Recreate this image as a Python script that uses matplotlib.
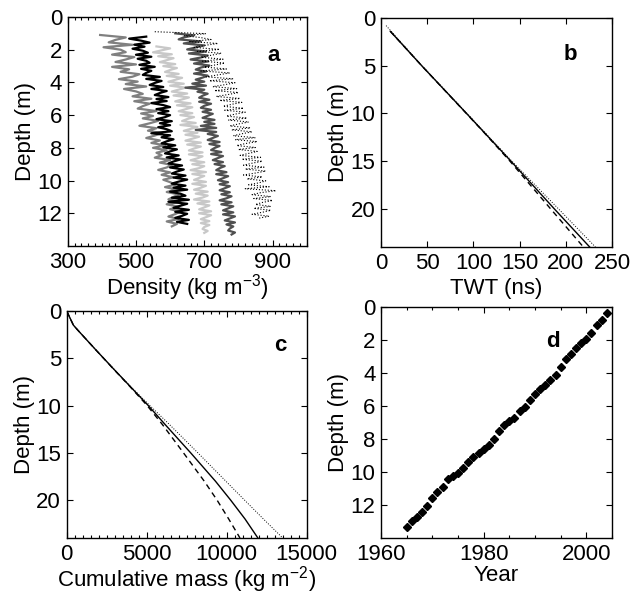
import numpy as np
import matplotlib
matplotlib.use("Agg")
import matplotlib.pyplot as plt
from matplotlib.ticker import MultipleLocator

plt.rcParams['font.family'] = ['Liberation Sans', 'DejaVu Sans']
plt.rcParams['mathtext.default'] = 'regular'
FS = 16
plt.rcParams['font.size'] = FS

# ---------------- Panel a: density profiles (kg m^-3), depth range per series ----------------
range_medgray = (1.10, 12.80)
dens_medgray = [395, 470, 440, 420, 490, 405, 455, 470, 430, 495, 470, 440, 500, 430, 480, 455,
                510, 490, 450, 505, 470, 530, 465, 500, 520, 490, 545, 495, 540, 520, 505, 560,
                515, 550, 520, 565, 540, 510, 560, 535, 575, 555, 530, 570, 545, 585, 550, 590,
                560, 575, 555, 600, 570, 605, 590, 565, 600, 575, 610, 580, 600, 615, 585, 620,
                590, 625, 610, 595, 630, 590, 625, 600, 630, 615, 595, 625, 590, 620, 605]
range_black = (1.20, 12.65)
dens_black = [530, 480, 515, 540, 495, 525, 490, 520, 535, 500, 545, 505, 530, 540, 510, 555,
              515, 545, 530, 520, 570, 530, 575, 555, 540, 580, 545, 590, 570, 555, 595, 560,
              590, 545, 580, 600, 560, 595, 565, 600, 585, 560, 605, 570, 600, 565, 590, 605,
              545, 600, 575, 610, 590, 575, 615, 580, 620, 600, 585, 625, 590, 630, 610, 595,
              635, 600, 640, 620, 605, 645, 610, 650, 625, 605, 645, 610, 650, 600, 630, 645,
              605, 655, 595, 650, 630, 610, 655, 615, 650, 635, 615, 655, 620, 650]
range_lightgray = (1.80, 13.20)
dens_lightgray = [560, 600, 575, 550, 605, 565, 610, 590, 570, 615, 580, 620, 600, 585, 625, 590,
                  635, 615, 595, 640, 600, 645, 625, 605, 650, 610, 655, 635, 615, 660, 620, 665,
                  645, 625, 665, 630, 670, 650, 635, 675, 630, 680, 660, 640, 680, 645, 685, 665,
                  645, 690, 650, 690, 670, 655, 695, 655, 695, 680, 660, 700, 665, 700, 685, 660,
                  705, 665, 700, 685, 670, 705, 665, 705, 690, 670, 710, 675, 710, 695, 670, 715,
                  680, 715, 700, 685, 720, 685, 720, 705, 690, 715, 690, 715, 700, 695, 710, 700]
range_darkgray = (1.00, 13.30)
dens_darkgray = [615, 670, 640, 625, 690, 640, 700, 675, 650, 705, 655, 710, 690, 660, 710, 670,
                 715, 690, 675, 705, 670, 710, 695, 675, 700, 665, 705, 645, 700, 680, 710, 695,
                 685, 715, 685, 720, 700, 690, 720, 695, 725, 710, 695, 730, 700, 730, 690, 735,
                 675, 735, 710, 740, 725, 710, 745, 715, 745, 730, 720, 750, 720, 755, 740, 725,
                 755, 730, 760, 745, 735, 765, 735, 770, 755, 740, 770, 745, 775, 760, 745, 775,
                 750, 780, 765, 745, 780, 750, 785, 770, 755, 785, 755, 790, 775, 760, 790, 765,
                 785, 775, 770, 790, 780]
range_dotted = (0.90, 12.30)
dens_dotted = [555, 705, 640, 690, 720, 655, 740, 700, 670, 745, 680, 750, 720, 690, 755, 695,
               760, 730, 700, 765, 690, 775, 740, 705, 785, 715, 790, 760, 725, 795, 730, 800,
               770, 735, 805, 745, 810, 780, 755, 815, 760, 820, 790, 765, 825, 770, 830, 800,
               775, 835, 780, 840, 810, 785, 850, 790, 855, 820, 795, 850, 800, 855, 830, 805,
               865, 810, 870, 840, 815, 875, 820, 880, 850, 815, 870, 825, 880, 860, 830, 890,
               820, 910, 865, 840, 895, 845, 900, 870, 850, 895, 845, 895, 870, 840, 890, 860]

# ---------------- Panel b: depth vs two-way travel time ----------------
twt_depth_solid = [1.4, 5, 10, 15, 20, 24]
twt_solid = [10.1, 44.0, 92.5, 140.5, 187.5, 225.8]
twt_depth_dashed = [1.4, 5, 10, 12, 15, 20, 24]
twt_dashed = [10.1, 44.0, 92.3, 111.5, 139.5, 183.5, 219.0]
twt_depth_dotted = [0.8, 5, 10, 15, 20, 24]
twt_dotted = [5.5, 44.3, 93.0, 141.5, 192.0, 232.0]

# ---------------- Panel c: cumulative mass (kg m^-2) ----------------
mass_depth = [0, 0.5, 1.0, 1.5, 2, 3, 4, 6, 8, 10, 12, 15, 18, 20, 22, 24]
mass_solid = [0, 140, 280, 420, 680, 1220, 1760, 2860, 3980, 5100, 6150, 7750, 9300, 10250, 11150, 11950]
mass_dashed = [0, 140, 280, 420, 680, 1220, 1760, 2850, 3960, 5030, 5980, 7300, 8600, 9400, 10130, 10830]
mass_dotted = [0, 140, 280, 420, 680, 1220, 1760, 2870, 4000, 5200, 6420, 8200, 9950, 11120, 12300, 13500]

# ---------------- Panel d: depth-age ----------------
years_d = [1965, 1966, 1967, 1968, 1969, 1970, 1971, 1972, 1973, 1974,
           1975, 1976, 1977, 1978, 1979, 1980, 1981, 1982, 1983, 1984,
           1985, 1986, 1987, 1988, 1989, 1990, 1991, 1992, 1993, 1994,
           1995, 1996, 1997, 1998, 1999, 2000, 2001, 2002, 2003, 2004]
depth_d = [13.33, 13.0, 12.7, 12.4, 12.05, 11.6, 11.2, 10.9, 10.4, 10.24,
           10.04, 9.74, 9.4, 9.1, 8.83, 8.6, 8.37, 7.98, 7.5, 7.18,
           6.9, 6.7, 6.3, 6.05, 5.65, 5.25, 5.0, 4.7, 4.4, 4.1,
           3.63, 3.15, 2.85, 2.5, 2.2, 1.94, 1.6, 1.1, 0.77, 0.36]


def depths(rng, vals):
    return np.linspace(rng[0], rng[1], len(vals))


fig = plt.figure(figsize=(6.38, 5.94), dpi=100)
ax_a = fig.add_axes([0.1061, 0.5859, 0.3746, 0.3855])
ax_b = fig.add_axes([0.5972, 0.5842, 0.3621, 0.3855])
ax_c = fig.add_axes([0.1045, 0.0943, 0.3762, 0.3822])
ax_d = fig.add_axes([0.5972, 0.0943, 0.3621, 0.3889])


def style(ax):
    ax.tick_params(which='both', direction='in', top=True, right=True, width=0.8,
                   labelsize=FS, pad=4)
    ax.tick_params(which='major', length=4.5)
    ax.tick_params(which='minor', length=2.5)
    for s in ax.spines.values():
        s.set_linewidth(1.0)


# Panel a
ax_a.plot(dens_medgray, depths(range_medgray, dens_medgray), color='#808080', lw=1.6)
ax_a.plot(dens_lightgray, depths(range_lightgray, dens_lightgray), color='#c8c8c8', lw=1.6)
ax_a.plot(dens_darkgray, depths(range_darkgray, dens_darkgray), color='#505050', lw=1.6)
ax_a.plot(dens_dotted, depths(range_dotted, dens_dotted), color='black', lw=0.8, ls=':')
ax_a.plot(dens_black, depths(range_black, dens_black), color='black', lw=1.6)
ax_a.set_xlim(300, 1000)
ax_a.set_ylim(14, 0)
ax_a.set_xticks([300, 500, 700, 900])
ax_a.xaxis.set_minor_locator(MultipleLocator(20))
ax_a.set_yticks([0, 2, 4, 6, 8, 10, 12])
ax_a.set_xlabel('Density (kg m$^{-3}$)', fontsize=FS, labelpad=0)
ax_a.set_ylabel('Depth (m)', fontsize=FS, labelpad=1)
ax_a.text(0.86, 0.83, 'a', transform=ax_a.transAxes, fontsize=FS, fontweight='bold',
          ha='center', va='center')
style(ax_a)

# Panel b
ax_b.plot(twt_solid, twt_depth_solid, color='black', lw=1.0)
ax_b.plot(twt_dashed, twt_depth_dashed, color='black', lw=1.0, ls=(0, (4, 3)))
ax_b.plot(twt_dotted, twt_depth_dotted, color='black', lw=0.7, ls=':')
ax_b.set_xlim(0, 250)
ax_b.set_ylim(24, 0)
ax_b.set_xticks([0, 50, 100, 150, 200, 250])
ax_b.set_yticks([0, 5, 10, 15, 20])
ax_b.set_xlabel('TWT (ns)', fontsize=FS, labelpad=3)
ax_b.set_ylabel('Depth (m)', fontsize=FS, labelpad=1)
ax_b.text(0.82, 0.84, 'b', transform=ax_b.transAxes, fontsize=FS, fontweight='bold',
          ha='center', va='center')
style(ax_b)

# Panel c
ax_c.plot(mass_solid, mass_depth, color='black', lw=1.0)
ax_c.plot(mass_dashed, mass_depth, color='black', lw=1.0, ls=(0, (4, 3)))
ax_c.plot(mass_dotted, mass_depth, color='black', lw=0.7, ls=':')
ax_c.set_xlim(0, 15000)
ax_c.set_ylim(24, 0)
ax_c.set_xticks([0, 5000, 10000, 15000])
ax_c.xaxis.set_minor_locator(MultipleLocator(500))
ax_c.set_yticks([0, 5, 10, 15, 20])
ax_c.set_xlabel('Cumulative mass (kg m$^{-2}$)', fontsize=FS, labelpad=0)
ax_c.set_ylabel('Depth (m)', fontsize=FS, labelpad=1)
ax_c.text(0.89, 0.85, 'c', transform=ax_c.transAxes, fontsize=FS, fontweight='bold',
          ha='center', va='center')
style(ax_c)

# Panel d
ax_d.plot(years_d, depth_d, ls='none', marker='D', ms=3.8, color='black')
ax_d.set_xlim(1960, 2005)
ax_d.set_ylim(14, 0)
ax_d.set_xticks([1960, 1980, 2000])
ax_d.xaxis.set_minor_locator(MultipleLocator(5))
ax_d.set_yticks([0, 2, 4, 6, 8, 10, 12])
ax_d.set_xlabel('Year', fontsize=FS, labelpad=0.5)
ax_d.set_ylabel('Depth (m)', fontsize=FS, labelpad=1)
ax_d.text(0.745, 0.85, 'd', transform=ax_d.transAxes, fontsize=FS, fontweight='bold',
          ha='center', va='center')
style(ax_d)

fig.savefig('out.png', dpi=100)
